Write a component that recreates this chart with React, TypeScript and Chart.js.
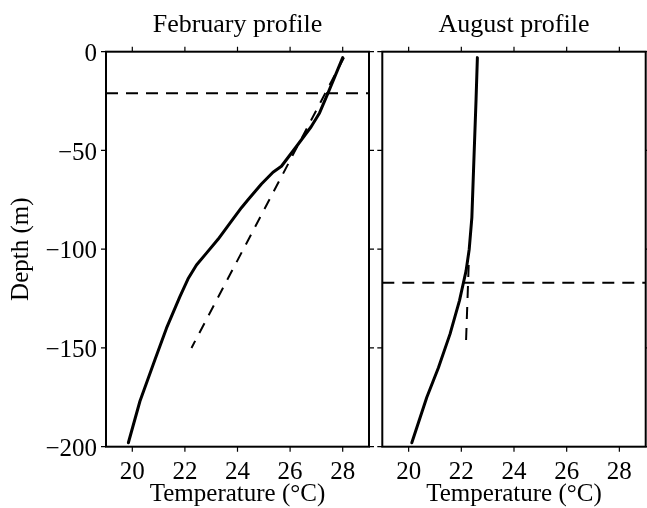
import React, { useEffect, useRef } from "react";
import { Chart, registerables } from "chart.js";

Chart.register(...registerables);

// February temperature profile (°C) against depth (m)
const febDepth = [-3, -21, -31, -38, -48, -58, -61, -67, -75, -79, -87, -95, -102, -108, -115, -124, -140, -156, -177, -198];
const febTemp = [28.0, 27.44, 27.12, 26.8, 26.24, 25.67, 25.35, 24.91, 24.4, 24.15, 23.7, 23.26, 22.82, 22.44, 22.12, 21.81, 21.3, 20.86, 20.29, 19.85];
// February linear fit of the thermocline and mixed-layer depth
const febFitDepth = [-3, -150];
const febFitTemp = [28.05, 22.25];
const febMixedLayer = -21;

// August temperature profile (°C) against depth (m)
const augDepth = [-3, -24, -50, -84, -100, -111, -117, -126, -143, -160, -175, -198];
const augTemp = [22.61, 22.56, 22.49, 22.4, 22.3, 22.18, 22.08, 21.93, 21.57, 21.13, 20.69, 20.12];
// August fit line and mixed-layer depth
const augFitDepth = [-108, -150];
const augFitTemp = [22.28, 22.17];
const augMixedLayer = -117;

const tempTicks = [20, 22, 24, 26, 28];
const depthTicks = [0, -50, -100, -150, -200];
const tempMin = 19;
const tempMax = 29;
const depthMin = -200;
const depthMax = 0;

const SERIF = '"Liberation Serif", "Times New Roman", serif';

const toPoints = (xs: number[], ys: number[]) => xs.map((x, i) => ({ x, y: ys[i] }));

// Box frame, outward tick marks on all four sides, and panel heading
const framePlugin = {
  id: "frame",
  afterDatasetsDraw(chart: any, _args: any, opts: any) {
    const { ctx, chartArea: a, scales } = chart;
    ctx.save();
    ctx.strokeStyle = "#000";
    ctx.lineWidth = 1.2;
    ctx.beginPath();
    for (const t of tempTicks) {
      const x = scales.x.getPixelForValue(t);
      ctx.moveTo(x, a.bottom);
      ctx.lineTo(x, a.bottom + 5);
      ctx.moveTo(x, a.top);
      ctx.lineTo(x, a.top - 5);
    }
    for (const d of depthTicks) {
      const y = scales.y.getPixelForValue(d);
      ctx.moveTo(a.left, y);
      ctx.lineTo(a.left - 5, y);
      ctx.moveTo(a.right, y);
      ctx.lineTo(a.right + 5, y);
    }
    ctx.stroke();
    ctx.lineWidth = 2;
    ctx.strokeRect(a.left, a.top, a.right - a.left, a.bottom - a.top);
    ctx.fillStyle = "#000";
    ctx.font = `26px ${SERIF}`;
    ctx.textAlign = "center";
    ctx.textBaseline = "alphabetic";
    ctx.fillText(opts.title, (a.left + a.right) / 2, 32);
    ctx.restore();
  },
};

type PanelProps = {
  title: string;
  temp: number[];
  depth: number[];
  fitTemp: number[];
  fitDepth: number[];
  mixedLayer: number;
  fitDash: number[];
  showDepthAxis: boolean;
  width: number;
  left: number;
  padLeft: number;
  padRight: number;
};

function Panel(p: PanelProps) {
  const ref = useRef<HTMLCanvasElement | null>(null);

  useEffect(() => {
    if (!ref.current) return;
    const minus = (v: any) => String(v).replace("-", "\u2212");
    const chart = new Chart(ref.current, {
      type: "scatter",
      data: {
        datasets: [
          {
            data: toPoints(p.temp, p.depth),
            showLine: true,
            borderColor: "#000",
            borderWidth: 3,
            pointRadius: 0,
            borderJoinStyle: "round",
            borderCapStyle: "round",
          },
          {
            data: toPoints(p.fitTemp, p.fitDepth),
            showLine: true,
            borderColor: "#000",
            borderWidth: 2,
            borderDash: p.fitDash,
            pointRadius: 0,
          },
          {
            data: toPoints([tempMin, tempMax], [p.mixedLayer, p.mixedLayer]),
            showLine: true,
            borderColor: "#000",
            borderWidth: 2,
            borderDash: [12, 8],
            pointRadius: 0,
          },
        ],
      },
      options: {
        animation: false,
        responsive: false,
        devicePixelRatio: 1,
        layout: { padding: { top: 51.7, left: p.padLeft, right: p.padRight, bottom: 0 } },
        plugins: {
          legend: { display: false },
          tooltip: { enabled: false },
          frame: { title: p.title },
        } as any,
        scales: {
          x: {
            type: "linear",
            min: tempMin,
            max: tempMax,
            afterBuildTicks: (s: any) => {
              s.ticks = tempTicks.map((v) => ({ value: v }));
            },
            afterFit: (s: any) => {
              s.height = 61.3;
            },
            grid: { display: false, drawTicks: false },
            border: { display: false },
            ticks: {
              padding: 11,
              color: "#000",
              font: { family: SERIF, size: 25 },
              maxRotation: 0,
            },
            title: {
              display: true,
              text: "Temperature (°C)",
              color: "#000",
              font: { family: SERIF, size: 25, lineHeight: 1.1 },
              padding: { top: 0, bottom: 0 },
            },
          },
          y: {
            type: "linear",
            display: p.showDepthAxis,
            min: depthMin,
            max: depthMax,
            afterBuildTicks: (s: any) => {
              s.ticks = depthTicks.map((v) => ({ value: v }));
            },
            afterFit: (s: any) => {
              s.width = p.showDepthAxis ? 106 : 0;
            },
            grid: { display: false, drawTicks: false },
            border: { display: false },
            ticks: {
              padding: 9,
              labelOffset: 2.5,
              color: "#000",
              font: { family: SERIF, size: 25 },
              callback: (v: any) => minus(v),
            },
            title: {
              display: true,
              text: "Depth (m)",
              color: "#000",
              font: { family: SERIF, size: 25 },
              padding: { top: 6, bottom: 0 },
            },
          },
        },
      },
      plugins: [framePlugin],
    } as any);
    return () => chart.destroy();
  }, []);

  return (
    <canvas
      ref={ref}
      width={p.width}
      height={508}
      style={{ position: "absolute", left: p.left, top: 0, width: p.width, height: 508 }}
    />
  );
}

export default function App() {
  return (
    <div style={{ position: "fixed", left: 0, top: 0, width: 647, height: 508, background: "#fff" }}>
      <Panel
        title="February profile"
        temp={febTemp}
        depth={febDepth}
        fitTemp={febFitTemp}
        fitDepth={febFitDepth}
        mixedLayer={febMixedLayer}
        fitDash={[11, 9]}
        showDepthAxis={true}
        width={376}
        left={0}
        padLeft={0}
        padRight={7}
      />
      <Panel
        title="August profile"
        temp={augTemp}
        depth={augDepth}
        fitTemp={augFitTemp}
        fitDepth={augFitDepth}
        mixedLayer={augMixedLayer}
        fitDash={[12, 9]}
        showDepthAxis={false}
        width={271}
        left={376}
        padLeft={6.3}
        padRight={1.3}
      />
    </div>
  );
}
